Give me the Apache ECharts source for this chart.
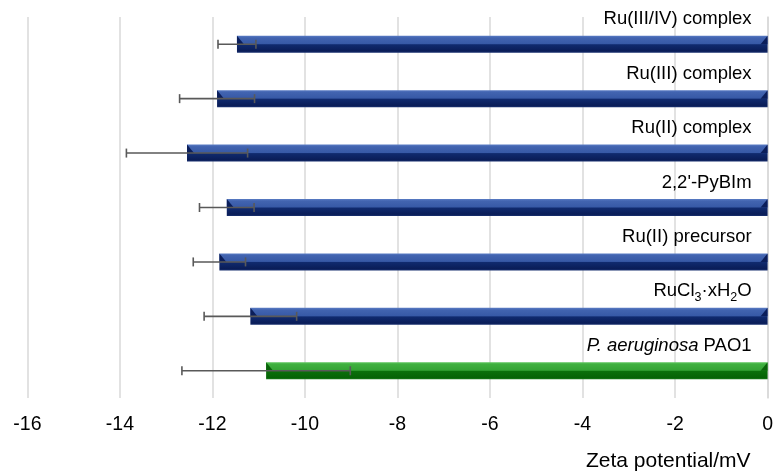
<!DOCTYPE html>
<html>
<head>
<meta charset="utf-8">
<script src="https://cdn.jsdelivr.net/npm/echarts@6/dist/echarts.min.js"></script>
<style>
  html, body { margin: 0; padding: 0; background: #fff; }
  #chart { width: 776px; height: 472px; }
</style>
</head>
<body>
<div id="chart"></div>
<script>
// Samples, top to bottom
const categories = ['Ru(III/IV) complex', 'Ru(III) complex', 'Ru(II) complex', "2,2'-PyBIm", 'Ru(II) precursor', 'RuCl3·xH2O', 'P. aeruginosa PAO1'];
// Mean zeta potential (mV) and standard deviation
const zetaMeans = [-11.47, -11.90, -12.55, -11.69, -11.85, -11.18, -10.84];
const zetaErrors = [0.41, 0.81, 1.31, 0.59, 0.565, 1.00, 1.82];
// Which bars use the green (bacteria) style
const isBacteria = [false, false, false, false, false, false, true];
// X axis ticks
const xMin = -16, xMax = 0, xStep = 2;

const blueFill = new echarts.graphic.LinearGradient(0, 0, 0, 1, [
  { offset: 0, color: '#5a7cc4' },
  { offset: 0.12, color: '#4264b0' },
  { offset: 0.47, color: '#3759a6' },
  { offset: 0.53, color: '#102a6e' },
  { offset: 0.9, color: '#0a1d58' },
  { offset: 1, color: '#1a3170' }
]);
const greenFill = new echarts.graphic.LinearGradient(0, 0, 0, 1, [
  { offset: 0, color: '#5cc45c' },
  { offset: 0.12, color: '#3fb03f' },
  { offset: 0.47, color: '#34a334' },
  { offset: 0.53, color: '#0b700b' },
  { offset: 0.9, color: '#066306' },
  { offset: 1, color: '#1a7a1a' }
]);

const barData = zetaMeans.map((v, i) => ({
  value: v,
  itemStyle: { color: isBacteria[i] ? greenFill : blueFill }
}));
const errData = zetaMeans.map((v, i) => [v - zetaErrors[i], v + zetaErrors[i], i]);
const bevelData = zetaMeans.map((v, i) => [v, i, isBacteria[i] ? 1 : 0]);

const BAR_H = 17;

const labelRich = {
  n: { fontSize: 18.5, color: '#000', fontFamily: 'Liberation Sans', lineHeight: 24 },
  i: { fontSize: 18.5, color: '#000', fontFamily: 'Liberation Sans', fontStyle: 'italic', lineHeight: 24 },
  s: { fontSize: 12.5, color: '#000', fontFamily: 'Liberation Sans', padding: [12, 0, 0, 0], lineHeight: 12 }
};
function richLabel(name) {
  if (name === 'RuCl3·xH2O') return '{n|RuCl}{s|3}{n|·xH}{s|2}{n|O}';
  if (name === 'P. aeruginosa PAO1') return '{i|P. aeruginosa}{n| PAO1}';
  return '{n|' + name + '}';
}

const chart = echarts.init(document.getElementById('chart'), null, { renderer: 'canvas' });
chart.setOption({
  animation: false,
  backgroundColor: '#fff',
  textStyle: { fontFamily: 'Liberation Sans' },
  grid: { left: 27.4, right: 7, top: 17, bottom: 74, containLabel: false },
  xAxis: {
    type: 'value',
    min: xMin, max: xMax, interval: xStep,
    axisLine: { show: false },
    axisTick: { show: false },
    splitLine: { show: true, lineStyle: { color: '#d9d9d9', width: 1.5 } },
    axisLabel: { fontSize: 19.5, color: '#000', margin: 17, fontFamily: 'Liberation Sans' },
    name: 'Zeta potential/mV',
    nameLocation: 'end',
    nameGap: -17,
    nameTextStyle: {
      fontSize: 21, color: '#000', fontFamily: 'Liberation Sans',
      align: 'right', verticalAlign: 'top', padding: [53, 0, 0, 0]
    }
  },
  yAxis: {
    type: 'category',
    data: categories,
    inverse: true,
    position: 'right',
    axisLine: { show: true, lineStyle: { color: '#d9d9d9', width: 1.5 } },
    axisTick: { show: false },
    splitLine: { show: false },
    axisLabel: {
      inside: true,
      margin: 16,
      align: 'right',
      verticalAlign: 'bottom',
      padding: [0, 0, 13, 0],
      formatter: richLabel,
      rich: labelRich
    }
  },
  series: [
    {
      type: 'bar',
      data: barData,
      barWidth: BAR_H,
      z: 2
    },
    {
      // bevelled end caps of the bars
      type: 'custom',
      data: bevelData,
      encode: { x: 0, y: 1 },
      z: 3,
      silent: true,
      renderItem: function (params, api) {
        const left = api.coord([api.value(0), api.value(1)]);
        const right = api.coord([0, api.value(1)]);
        const top = left[1] - BAR_H / 2;
        const mid = left[1];
        const dark = api.value(2) ? '#0a630a' : '#0b1e5a';
        return {
          type: 'group',
          children: [
            { type: 'polygon', shape: { points: [[left[0], top], [left[0] + 7, mid], [left[0], mid]] }, style: { fill: dark } },
            { type: 'polygon', shape: { points: [[right[0], top], [right[0], mid], [right[0] - 7, mid]] }, style: { fill: dark } }
          ]
        };
      }
    },
    {
      // standard deviation whiskers
      type: 'custom',
      data: errData,
      encode: { x: [0, 1], y: 2 },
      z: 4,
      silent: true,
      renderItem: function (params, api) {
        const lo = api.coord([api.value(0), api.value(2)]);
        const hi = api.coord([api.value(1), api.value(2)]);
        const cap = 4.5;
        const st = { stroke: '#595959', lineWidth: 1.6 };
        return {
          type: 'group',
          children: [
            { type: 'line', shape: { x1: lo[0], y1: lo[1], x2: hi[0], y2: hi[1] }, style: st },
            { type: 'line', shape: { x1: lo[0], y1: lo[1] - cap, x2: lo[0], y2: lo[1] + cap }, style: st },
            { type: 'line', shape: { x1: hi[0], y1: hi[1] - cap, x2: hi[0], y2: hi[1] + cap }, style: st }
          ]
        };
      }
    }
  ]
});
</script>
</body>
</html>
